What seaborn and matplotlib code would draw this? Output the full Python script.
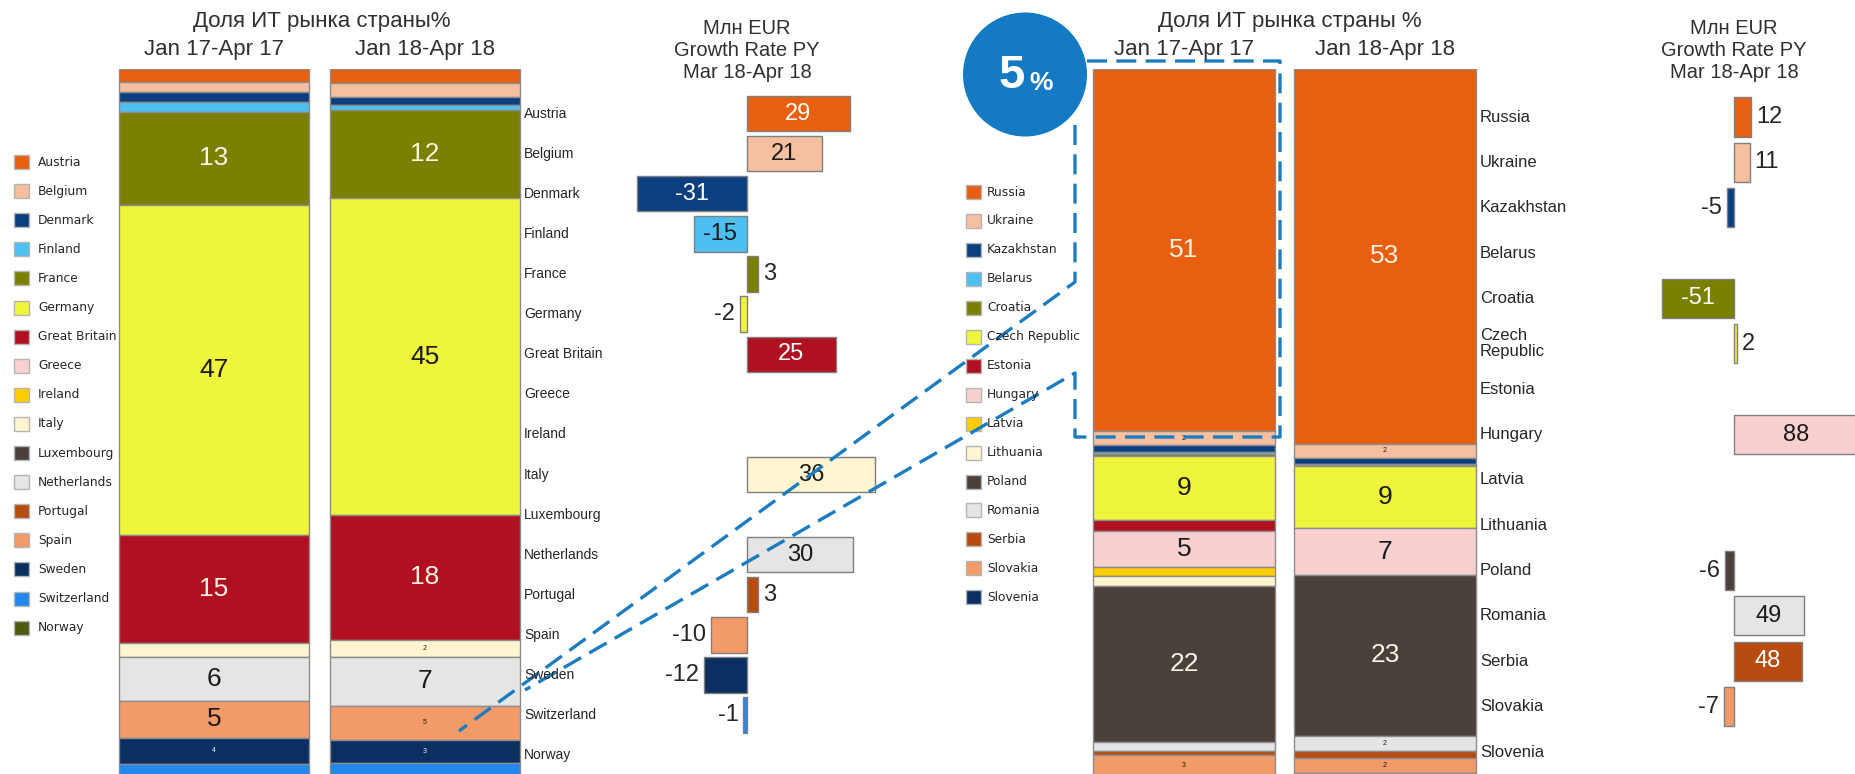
import numpy as np
import pandas as pd
import matplotlib
matplotlib.use("Agg")
import matplotlib.pyplot as plt
import seaborn as sns
from matplotlib.patches import Rectangle, Circle
from matplotlib import transforms

# ---------------- data ----------------
west_countries = ["Austria", "Belgium", "Denmark", "Finland", "France", "Germany",
                  "Great Britain", "Greece", "Ireland", "Italy", "Luxembourg",
                  "Netherlands", "Portugal", "Spain", "Sweden", "Switzerland", "Norway"]
west_colors = ["#E8600F", "#F5BFA0", "#0B3F80", "#4DBFF0", "#7A8000", "#EEF53A",
               "#B01020", "#F8D0D0", "#FFCC00", "#FFF5D0", "#4A403C", "#E5E5E3",
               "#B84C10", "#F29A68", "#0A2F60", "#2288EE", "#4F5A10"]
west_share_17 = [1.8, 1.4, 1.5, 1.4, 13.0, 46.6, 15.1, 0, 0, 2.0, 0, 6.2, 0, 5.2, 3.7, 3.0, 1.0]
west_share_18 = [2.0, 1.9, 1.2, 0.7, 12.4, 44.6, 17.6, 0, 0, 2.4, 0, 6.9, 0, 4.8, 3.2, 3.0, 1.0]
west_small_17 = ["Sweden"]
west_small_18 = ["Italy", "Spain", "Sweden"]
west_growth = [29, 21, -31, -15, 3, -2, 25, None, None, 36, None, 30, 3, -10, -12, -1, None]

east_countries = ["Russia", "Ukraine", "Kazakhstan", "Belarus", "Croatia", "Czech Republic",
                  "Estonia", "Hungary", "Latvia", "Lithuania", "Poland", "Romania",
                  "Serbia", "Slovakia", "Slovenia"]
east_labels = ["Russia", "Ukraine", "Kazakhstan", "Belarus", "Croatia", "Czech\nRepublic",
               "Estonia", "Hungary", "Latvia", "Lithuania", "Poland", "Romania",
               "Serbia", "Slovakia", "Slovenia"]
east_colors = ["#E8600F", "#F5BFA0", "#0B3F80", "#4DBFF0", "#7A8000", "#EEF53A",
               "#B01020", "#F8D0D0", "#FFCC00", "#FFF5D0", "#4A403C", "#E5E5E3",
               "#B84C10", "#F29A68", "#0A2F60"]
east_share_17 = [51.0, 2.0, 1.0, 0.2, 0.3, 9.0, 1.6, 5.0, 1.3, 1.4, 22.0, 1.2, 0.6, 3.0, 1.0]
east_share_18 = [52.8, 2.0, 0.9, 0.1, 0.1, 8.8, 0, 6.6, 0, 0, 22.6, 2.2, 1.0, 2.0, 1.0]
east_small_17 = ["Ukraine", "Slovakia"]
east_small_18 = ["Ukraine", "Romania", "Slovakia"]
east_growth = [12, 11, -5, None, -51, 2, None, 88, None, None, -6, 49, 48, -7, None]

title_share = "Доля ИТ рынка страны%"
title_share_r = "Доля ИТ рынка страны %"
period_labels = ["Jan 17-Apr 17", "Jan 18-Apr 18"]
growth_title = "Млн EUR\nGrowth Rate PY\nMar 18-Apr 18"
badge_value = "5"

# ---------------- style ----------------
sns.set_theme(style="white")
plt.rcParams["font.family"] = ["Liberation Sans", "DejaVu Sans"]
TXT = "#262626"
W, H = 1856, 774
fig = plt.figure(figsize=(W / 100, H / 100), dpi=100)
fig.patch.set_facecolor("white")


def add_ax(x0, y0, x1, y1, **kw):
    return fig.add_axes([x0 / W, 1 - y1 / H, (x1 - x0) / W, (y1 - y0) / H], **kw)


def lum(c):
    r, g, b = matplotlib.colors.to_rgb(c)
    return 0.299 * r + 0.587 * g + 0.114 * b


PX_PER_PCT = 7.1
BAR_TOP = 69


def stacked(ax, shares_pair, colors, countries, smalls):
    for j, shares in enumerate(shares_pair):
        cum = 0.0
        for c, v, col in zip(countries, shares, colors):
            if v > 0:
                ax.bar(j, v, bottom=cum, width=0.905, color=col,
                       edgecolor="#8c8c8c", linewidth=1.0)
                mid = cum + v / 2
                tc = "#FBF3E4" if lum(col) < 0.55 else "#1a1a1a"
                if v >= 5:
                    ax.text(j, mid, f"{v:.0f}", ha="center", va="center",
                            fontsize=19, color=tc)
                elif c in smalls[j]:
                    ax.text(j, mid, f"{v:.0f}", ha="center", va="center",
                            fontsize=5, color=tc)
            cum += v
    ax.set_xlim(-0.5, 1.5)
    ax.set_ylim((H - BAR_TOP) / PX_PER_PCT, 0)
    ax.axis("off")


# left stacked bars (centres at 214 and 425 px)
ax_l = add_ax(214 - 105.5, BAR_TOP, 425 + 105.5, H)
stacked(ax_l, [west_share_17, west_share_18], west_colors, west_countries,
        [west_small_17, west_small_18])
# right stacked bars (centres at 1184 and 1385 px)
ax_r = add_ax(1184 - 100.5, BAR_TOP, 1385 + 100.5, H)
stacked(ax_r, [east_share_17, east_share_18], east_colors, east_countries,
        [east_small_17, east_small_18])


def growth(ax, countries, colors, values, zero_px, px_per_unit, x0, x1,
           row0, row_step, bar_w):
    df = pd.DataFrame({"country": countries, "growth": values}).dropna()
    pal = dict(zip(countries, colors))
    sns.barplot(data=df, x="growth", y="country", hue="country", order=countries,
                hue_order=countries, palette=pal, orient="h", width=bar_w,
                dodge=False, legend=False, edgecolor="#7f7f7f", linewidth=1.0,
                saturation=1, ax=ax)
    ax.set_xlim((x0 - zero_px) / px_per_unit, (x1 - zero_px) / px_per_unit)
    ax.set_ylim((H - row0) / row_step, -(row0 - BAR_TOP) / row_step)
    ax.axis("off")
    pad = 5 / px_per_unit
    for i, (v, col) in enumerate(zip(values, colors)):
        if v is None:
            continue
        if abs(v) >= 14:
            tc = "#FFFFFF" if lum(col) < 0.55 else "#1a1a1a"
            ax.text(v / 2, i, f"{v}", ha="center", va="center", fontsize=17, color=tc)
        elif v >= 0:
            ax.text(v + pad, i, f"{v}", ha="left", va="center", fontsize=17, color=TXT)
        else:
            ax.text(v - pad, i, f"{v}", ha="right", va="center", fontsize=17, color=TXT)


ax_gl = add_ax(540, BAR_TOP, 900, H)
growth(ax_gl, west_countries, west_colors, west_growth, 747, 3.55, 540, 900,
       113.6, 40.1, 0.88)
ax_gr = add_ax(1560, BAR_TOP, W, H)
growth(ax_gr, east_countries, east_colors, east_growth, 1734, 1.42, 1560, W,
       117, 45.36, 0.86)

# ---------------- overlay (pixel coordinates) ----------------
ov = fig.add_axes([0, 0, 1, 1], zorder=10)
ov.set_xlim(0, W)
ov.set_ylim(H, 0)
ov.axis("off")
ov.patch.set_alpha(0)

# category labels next to the bars
tl = transforms.blended_transform_factory(ov.transData, ax_gl.transData)
for i, c in enumerate(west_countries):
    ov.text(524, i, c, transform=tl, ha="left", va="center", fontsize=10, color=TXT)
tr = transforms.blended_transform_factory(ov.transData, ax_gr.transData)
for i, c in enumerate(east_labels):
    ov.text(1480, i, c, transform=tr, ha="left", va="center", fontsize=12,
            color=TXT, linespacing=1.05)

# legends
for i, (c, col) in enumerate(zip(west_countries, west_colors)):
    y = 162 + 29.1 * i
    ov.add_patch(Rectangle((14, y - 7), 15, 14, facecolor=col, edgecolor="#b5b5b5", lw=1))
    ov.text(38, y, c, ha="left", va="center", fontsize=8.8, color=TXT,
            family="DejaVu Sans")
for i, (c, col) in enumerate(zip(east_countries, east_colors)):
    y = 192 + 28.95 * i
    ov.add_patch(Rectangle((966, y - 7), 15, 14, facecolor=col, edgecolor="#b5b5b5", lw=1))
    ov.text(987, y, c, ha="left", va="center", fontsize=8.8, color=TXT,
            family="DejaVu Sans")

# titles
for cx, bx, t in [(322, (214, 425), title_share), (1290, (1184, 1385), title_share_r)]:
    ov.text(cx, 22, t, ha="center", va="center", fontsize=16, color="#303030")
    for b, p in zip(bx, period_labels):
        ov.text(b, 50, p, ha="center", va="center", fontsize=16, color="#303030")
for cx in (747, 1734):
    ov.text(cx, 50, growth_title, ha="center", va="center", fontsize=14.5,
            color="#303030", linespacing=1.2)

# highlight frame, connectors and badge
BLUE = "#1C7CC0"
dash = dict(color=BLUE, lw=2.4, ls=(0, (6, 2.8)), solid_capstyle="butt")
ov.plot([1087, 1280, 1280, 1075, 1075, 525], [61, 61, 437, 437, 373, 690], **dash)
ov.plot([1075, 1075, 459], [125, 282, 731], **dash)
ov.add_patch(Circle((1025, 74.5), 62, facecolor="#137AC3", edgecolor="none"))
ov.text(1012, 76, badge_value, ha="center", va="center", fontsize=34,
        fontweight="bold", color="white")
ov.text(1041, 83, "%", ha="center", va="center", fontsize=19,
        fontweight="bold", color="white")

fig.savefig("out.png", dpi=100, facecolor="white")
